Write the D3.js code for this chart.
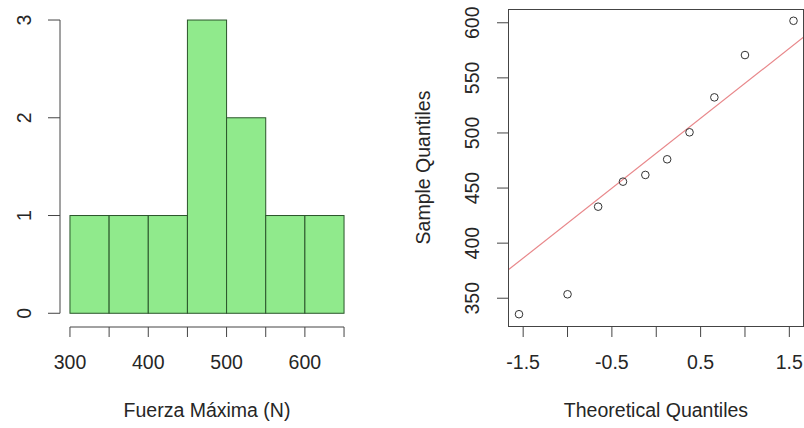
<!DOCTYPE html>
<html>
<head>
<meta charset="utf-8">
<script src="https://cdn.jsdelivr.net/npm/d3@7"></script>
<style>
  html, body { margin: 0; padding: 0; background: #fff; }
  svg { display: block; }
  text { font-family: "Liberation Sans", Arial, sans-serif; fill: #262626; }
</style>
</head>
<body>
<svg id="chart" width="804" height="428"></svg>
<script>
// ---- Data ----
const histBreaks = [300, 350, 400, 450, 500, 550, 600, 650];
const histCounts = [1, 1, 1, 3, 2, 1, 1];
const histXTicks = [300, 350, 400, 450, 500, 550, 600, 650];
const histXLabels = [300, 400, 500, 600];
const histYTicks = [0, 1, 2, 3];
const histXTitle = "Fuerza Máxima (N)";

const theoretical = [-1.547, -1.0, -0.655, -0.375, -0.123, 0.123, 0.375, 0.655, 1.0, 1.547];
const sample = [335.5, 353.6, 433.1, 455.8, 461.9, 476.1, 500.6, 532.3, 570.7, 601.8];
const qqXTicks = [-1.5, -1, -0.5, 0, 0.5, 1, 1.5];
const qqXLabels = ["-1.5", "-0.5", "0.5", "1.5"];
const qqYTicks = [350, 400, 450, 500, 550, 600];
const qqXTitle = "Theoretical Quantiles";
const qqYTitle = "Sample Quantiles";

// ---- Setup ----
const svg = d3.select("#chart");
const FS = 19.5;
const axisColor = "#444";

// ================= Histogram =================
const hx = d3.scaleLinear().domain([286, 664]).range([59, 355]);
const hy = d3.scaleLinear().domain([-0.12, 3.12]).range([325, 8.3]);

const bins = histCounts.map((c, i) => ({ x0: histBreaks[i], x1: histBreaks[i + 1], count: c }));
svg.append("g").selectAll("rect").data(bins).join("rect")
  .attr("x", d => hx(d.x0))
  .attr("y", d => hy(d.count))
  .attr("width", d => hx(d.x1) - hx(d.x0))
  .attr("height", d => hy(0) - hy(d.count))
  .attr("fill", "#90ea8c")
  .attr("stroke", "#2a552a")
  .attr("stroke-width", 1);

// x axis
const hxAxisY = 327;
const gHX = svg.append("g").attr("transform", `translate(0,${hxAxisY})`);
gHX.append("line")
  .attr("x1", hx(histXTicks[0])).attr("x2", hx(histXTicks[histXTicks.length - 1]))
  .attr("stroke", axisColor);
gHX.selectAll("line.tick").data(histXTicks).join("line").attr("class", "tick")
  .attr("x1", d => hx(d)).attr("x2", d => hx(d)).attr("y1", 0).attr("y2", 10)
  .attr("stroke", axisColor);
gHX.selectAll("text").data(histXLabels).join("text")
  .attr("x", d => hx(d)).attr("y", 42)
  .attr("text-anchor", "middle").attr("font-size", FS)
  .text(d => d);

// y axis
const hyAxisX = 60;
const gHY = svg.append("g").attr("transform", `translate(${hyAxisX},0)`);
gHY.append("line")
  .attr("y1", hy(histYTicks[0])).attr("y2", hy(histYTicks[histYTicks.length - 1]))
  .attr("stroke", axisColor);
gHY.selectAll("line.tick").data(histYTicks).join("line").attr("class", "tick")
  .attr("y1", d => hy(d)).attr("y2", d => hy(d)).attr("x1", 0).attr("x2", -12)
  .attr("stroke", axisColor);
gHY.selectAll("text").data(histYTicks).join("text")
  .attr("transform", d => `translate(-29.5,${hy(d)}) rotate(-90)`)
  .attr("text-anchor", "middle").attr("font-size", FS)
  .text(d => d);

svg.append("text")
  .attr("x", hx(475)).attr("y", 417)
  .attr("text-anchor", "middle").attr("font-size", FS)
  .text(histXTitle);

// ================= QQ plot =================
const qx = d3.scaleLinear().domain([-1.671, 1.671]).range([508, 804.5]);
const qy = d3.scaleLinear().domain([324.8, 612.5]).range([326, 9]);

const [bx0, bx1] = qx.range();
const [by1, by0] = qy.range();

svg.append("defs").append("clipPath").attr("id", "qqclip")
  .append("rect").attr("x", bx0).attr("y", by0).attr("width", bx1 - bx0).attr("height", by1 - by0);

// qqline through quartiles
const sorted = sample.slice().sort(d3.ascending);
const q1 = d3.quantile(sorted, 0.25), q3 = d3.quantile(sorted, 0.75);
const zq = 0.6744898;
const slope = (q3 - q1) / (2 * zq);
const intercept = q1 + slope * zq;
const xd = qx.domain();
svg.append("line")
  .attr("clip-path", "url(#qqclip)")
  .attr("x1", qx(xd[0])).attr("y1", qy(intercept + slope * xd[0]))
  .attr("x2", qx(xd[1])).attr("y2", qy(intercept + slope * xd[1]))
  .attr("stroke", "#e8878a").attr("stroke-width", 1.2);

// points
svg.append("g").selectAll("circle").data(theoretical.map((t, i) => [t, sample[i]])).join("circle")
  .attr("cx", d => qx(d[0])).attr("cy", d => qy(d[1]))
  .attr("r", 3.8)
  .attr("fill", "none").attr("stroke", "#333").attr("stroke-width", 1);

// box
svg.append("rect")
  .attr("x", bx0 + 0.5).attr("y", by0 + 0.5)
  .attr("width", bx1 - bx0 - 1.5).attr("height", by1 - by0)
  .attr("fill", "none").attr("stroke", axisColor);

// x axis ticks
const gQX = svg.append("g").attr("transform", `translate(0,${by1})`);
gQX.selectAll("line").data(qqXTicks).join("line")
  .attr("x1", d => qx(d)).attr("x2", d => qx(d)).attr("y1", 0).attr("y2", 11)
  .attr("stroke", axisColor);
gQX.selectAll("text").data(qqXLabels).join("text")
  .attr("x", d => qx(+d)).attr("y", 43)
  .attr("text-anchor", "middle").attr("font-size", FS)
  .text(d => d);

// y axis ticks
const gQY = svg.append("g").attr("transform", `translate(${bx0},0)`);
gQY.selectAll("line").data(qqYTicks).join("line")
  .attr("y1", d => qy(d)).attr("y2", d => qy(d)).attr("x1", 0).attr("x2", -11)
  .attr("stroke", axisColor);
gQY.selectAll("text").data(qqYTicks).join("text")
  .attr("transform", d => `translate(-29,${qy(d)}) rotate(-90)`)
  .attr("text-anchor", "middle").attr("font-size", FS)
  .text(d => d);

svg.append("text")
  .attr("x", 656).attr("y", 417)
  .attr("text-anchor", "middle").attr("font-size", FS)
  .text(qqXTitle);
svg.append("text")
  .attr("transform", `translate(430,${(by0 + by1) / 2}) rotate(-90)`)
  .attr("text-anchor", "middle").attr("font-size", FS)
  .text(qqYTitle);
</script>
</body>
</html>
